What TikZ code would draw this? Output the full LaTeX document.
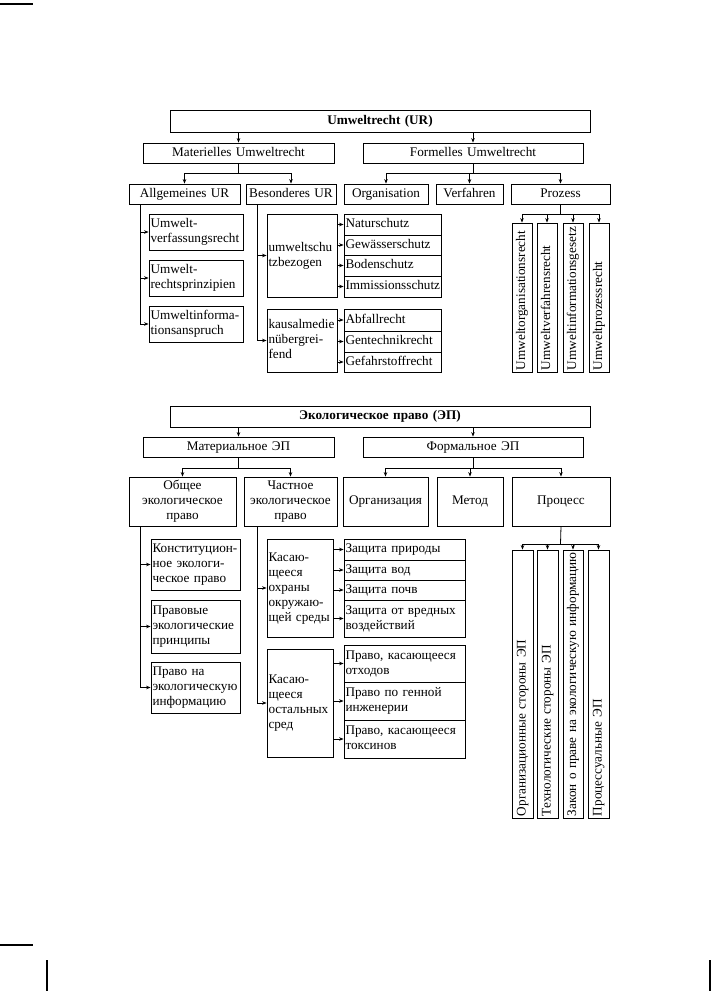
\documentclass[tikz,border=0pt]{standalone}
\usepackage{fontspec}
\setmainfont{Liberation Serif}
\usetikzlibrary{arrows.meta,calc}
\tikzset{
  box/.style={draw, line width=0.8pt, inner xsep=1.5pt, inner ysep=0.5pt,
    font=\fontsize{13.2}{15}\selectfont},
  arr/.style={line width=0.8pt, -{Stealth[length=4.5pt,width=3.5pt]}},
  ln/.style={line width=0.8pt},
  pagemark/.style={line width=1.1pt},
}
\newcommand\mkbox[7][center]{%
  \pgfmathsetmacro\mybw{#5-#3}\pgfmathsetmacro\mybh{#6-#4}\pgfmathsetmacro\mytw{#5-#3-3}%
  \pgfmathsetmacro\mycx{(#3+#5)/2}\pgfmathsetmacro\mycy{(#4+#6)/2}%
  \node[box, align=#1, text width=\mytw pt, minimum width=\mybw pt, minimum height=\mybh pt] (#2) at (\mycx,\mycy) {\strut#7\strut};}
\newcommand\mkrot[6]{%
  \pgfmathsetmacro\mybw{#4-#2}\pgfmathsetmacro\mybh{#5-#3}\pgfmathsetmacro\mytw{#5-#3-4}%
  \pgfmathsetmacro\mycx{(#2+#4)/2}\pgfmathsetmacro\mycy{(#3+#5)/2}%
  \node[box, rotate=90, align=left, inner xsep=1pt, text width=\mytw pt, minimum width=\mybh pt, minimum height=\mybw pt] (#1) at (\mycx,\mycy) {\strut#6};}
\begin{document}
\begin{tikzpicture}[x=1pt,y=-1pt]
\fill[white] (0,0) rectangle (711,991);
\useasboundingbox (0,0) rectangle (711,991);
% page marks
\draw[pagemark] (0,4) -- (33,4);
\draw[pagemark] (0,945) -- (33,945);
\draw[pagemark] (47,960) -- (47,991);
\draw[pagemark] (710,960) -- (710,991);

% ================= TOP: Umweltrecht =================
\mkbox{ur}{170}{110}{590}{132}{\textbf{Umweltrecht (UR)}}
\mkbox{mat}{143}{143}{334}{163}{Materielles Umweltrecht}
\mkbox{form}{363}{143}{583}{163}{Formelles Umweltrecht}
\draw[arr] (ur.south -| mat.north) -- (mat.north);
\draw[arr] (ur.south -| form.north) -- (form.north);

\mkbox{allg}{129}{184}{240}{204}{Allgemeines UR}
\mkbox{bes}{246}{184}{336}{204}{Besonderes UR}
\mkbox{org}{344}{184}{428}{204}{Organisation}
\mkbox{verf}{436}{184}{503}{204}{Verfahren}
\mkbox{proz}{511}{184}{610}{204}{Prozess}

\coordinate (b1) at (238.5,173);
\draw[ln] (mat.south) -- (b1);
\draw[arr] (b1) -| (allg.north);
\draw[arr] (b1) -| (bes.north);
\coordinate (b2) at (473,173);
\draw[ln] (form.south) -- (b2);
\draw[arr] (b2) -| (org.north);
\draw[arr] (b2) -| (verf.north);
\draw[arr] (b2) -| (proz.north);

% Allgemeines subtree
\mkbox[left]{uv}{149}{214}{243}{250}{Umwelt-\\verfassungsrecht}
\mkbox[left]{urp}{149}{260}{243}{296}{Umwelt-\\rechtsprinzipien}
\mkbox[left]{uia}{149}{306}{243}{342}{Umweltinforma-\\tionsanspruch}
\coordinate (av) at (140,204);
\draw[arr] (av) |- (uv.west);
\draw[arr] (av) |- (urp.west);
\draw[arr] (av) |- (uia.west);

% Besonderes subtree
\mkbox[left]{usb}{267}{214}{337}{297}{umweltschu\\tzbezogen}
\mkbox[left]{kmu}{267}{309}{337}{372}{kausalmedie\\nübergrei-\\fend}
\coordinate (bv) at (257,204);
\draw[arr] (bv) |- (usb.west);
\draw[arr] (bv) |- (kmu.west);

\mkbox[left]{nat}{344}{214}{441}{235}{Naturschutz}
\mkbox[left]{gew}{344}{235}{441}{255}{Gewässerschutz}
\mkbox[left]{bod}{344}{255}{441}{276}{Bodenschutz}
\mkbox[left]{imm}{344}{276}{441}{297}{Immissionsschutz}
\mkbox[left]{abf}{344}{309}{441}{331}{Abfallrecht}
\mkbox[left]{gen}{344}{331}{441}{352}{Gentechnikrecht}
\mkbox[left]{gef}{344}{352}{441}{372}{Gefahrstoffrecht}
\foreach \t in {nat,gew,bod,imm} \draw[arr] (usb.east |- \t.west) -- (\t.west);
\foreach \t in {abf,gen,gef} \draw[arr] (kmu.east |- \t.west) -- (\t.west);

% Prozess subtree
\mkrot{z1}{512}{223}{532}{372}{Umweltorganisationsrecht}
\mkrot{z2}{537}{223}{557}{372}{Umweltverfahrensrecht}
\mkrot{z3}{563}{223}{583}{372}{Umweltinformationsgesetz}
\mkrot{z4}{589}{223}{609}{372}{Umweltprozessrecht}
\coordinate (b3) at (560.5,214);
\draw[ln] (proz.south) -- (b3);
\foreach \t in {z1,z2,z3,z4} \draw[arr] (b3) -| (\t.east);

% ================= BOTTOM: Ekologicheskoe pravo =================
\mkbox{ep}{170}{406}{590}{427}{\textbf{Экологическое право (ЭП)}}
\mkbox{mep}{143}{437}{334}{457}{Материальное ЭП}
\mkbox{fep}{363}{437}{583}{457}{Формальное ЭП}
\draw[arr] (ep.south -| mep.north) -- (mep.north);
\draw[arr] (ep.south -| fep.north) -- (fep.north);

\mkbox{obsh}{129}{477}{236}{526}{Общее\\экологическое\\право}
\mkbox{chast}{244}{477}{337}{526}{Частное\\экологическое\\право}
\mkbox{orgr}{343}{477}{428}{526}{Организация}
\mkbox{metod}{437}{477}{503}{526}{Метод}
\mkbox{proc}{512}{477}{610}{526}{Процесс}

\coordinate (bb1) at (238.5,468);
\draw[ln] (mep.south) -- (bb1);
\draw[arr] (bb1) -| (obsh.north);
\draw[arr] (bb1) -| (chast.north);
\coordinate (bb2) at (473,468);
\draw[ln] (fep.south) -- (bb2);
\draw[arr] (bb2) -| (orgr.north);
\draw[arr] (bb2) -| (metod.north);
\draw[arr] (bb2) -| (proc.north);

% Obshchee subtree
\mkbox[left]{konst}{151}{539}{240}{590}{Конституцион-\\ное экологи-\\ческое право}
\mkbox[left]{prav}{151}{600}{240}{653}{Правовые\\экологические\\принципы}
\mkbox[left]{pinf}{151}{662}{240}{713}{Право на\\экологическую\\информацию}
\coordinate (cv) at (140,526);
\draw[arr] (cv) |- (konst.west);
\draw[arr] (cv) |- (prav.west);
\draw[arr] (cv) |- (pinf.west);

% Chastnoe subtree
\mkbox[left]{kas1}{267}{539}{333}{637}{Касаю-\\щееся\\охраны\\окружаю-\\щей среды}
\mkbox[left]{kas2}{267}{649}{333}{757}{Касаю-\\щееся\\остальных\\сред}
\coordinate (dv) at (257,526);
\draw[arr] (dv) |- (kas1.west);
\draw[arr] (dv) |- (kas2.west);

\mkbox[left]{zp}{344}{539}{465}{560}{Защита природы}
\mkbox[left]{zv}{344}{560}{465}{580}{Защита вод}
\mkbox[left]{zpo}{344}{580}{465}{600}{Защита почв}
\mkbox[left]{zvr}{344}{600}{465}{637}{Защита от вредных\\воздействий}
\mkbox[left]{po}{344}{645}{465}{682}{Право, касающееся\\отходов}
\mkbox[left]{pg}{344}{682}{465}{720}{Право по генной\\инженерии}
\mkbox[left]{pt}{344}{720}{465}{758}{Право, касающееся\\токсинов}
\foreach \t in {zp,zv,zpo,zvr} \draw[arr] (kas1.east |- \t.west) -- (\t.west);
\foreach \t in {po,pg,pt} \draw[arr] (kas2.east |- \t.west) -- (\t.west);

% Process subtree
\mkrot{y1}{512}{550}{533}{818}{Организационные стороны ЭП}
\mkrot{y2}{537}{550}{558}{818}{Технологические стороны ЭП}
\mkrot{y3}{563}{550}{583}{818}{Закон о праве на экологическую информацию}
\mkrot{y4}{588}{550}{609}{818}{Процессуальные ЭП}
\coordinate (cb3) at (560.5,544);
\draw[ln] (proc.south) -- (cb3);
\foreach \t in {y1,y2,y3,y4} \draw[arr] (cb3) -| (\t.east);
\end{tikzpicture}
\end{document}
